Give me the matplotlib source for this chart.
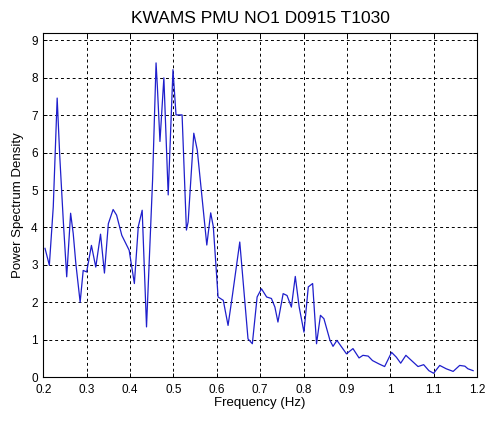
import matplotlib
matplotlib.use("Agg")
import matplotlib.pyplot as plt

plt.rcParams['font.family'] = ['Liberation Sans', 'DejaVu Sans']

freq = [0.204, 0.214, 0.223, 0.232, 0.238, 0.246, 0.254, 0.263, 0.269, 0.275,
        0.285, 0.292, 0.300, 0.311, 0.321, 0.332, 0.341, 0.350, 0.361, 0.369,
        0.381, 0.398, 0.410, 0.419, 0.428, 0.438, 0.452, 0.460, 0.463, 0.469,
        0.478, 0.488, 0.499, 0.506, 0.520, 0.530, 0.534, 0.547, 0.555, 0.577,
        0.586, 0.592, 0.603, 0.615, 0.626, 0.636, 0.653, 0.672, 0.682, 0.693,
        0.703, 0.715, 0.726, 0.734, 0.741, 0.753, 0.762, 0.772, 0.781, 0.790,
        0.801, 0.811, 0.821, 0.830, 0.839, 0.847, 0.861, 0.868, 0.877, 0.888,
        0.899, 0.914, 0.928, 0.937, 0.949, 0.959, 0.974, 0.987, 1.003, 1.014,
        1.024, 1.036, 1.049, 1.064, 1.077, 1.089, 1.100, 1.114, 1.129, 1.145,
        1.160, 1.172, 1.179, 1.191]
psd = [3.44, 2.99, 4.55, 7.46, 5.90, 4.20, 2.68, 4.38, 3.84, 3.04,
       2.00, 2.85, 2.81, 3.52, 2.94, 3.82, 2.78, 4.10, 4.48, 4.33,
       3.79, 3.39, 2.50, 4.02, 4.46, 1.34, 5.27, 8.40, 7.77, 6.30,
       8.00, 4.87, 8.22, 7.01, 7.01, 3.93, 4.15, 6.52, 6.07, 3.53,
       4.39, 4.02, 2.14, 2.05, 1.38, 2.18, 3.61, 1.02, 0.89, 2.14,
       2.36, 2.14, 2.10, 1.87, 1.47, 2.23, 2.18, 1.87, 2.69, 1.87,
       1.20, 2.41, 2.50, 0.89, 1.65, 1.56, 0.98, 0.82, 0.98, 0.80,
       0.62, 0.76, 0.51, 0.58, 0.56, 0.44, 0.35, 0.28, 0.66, 0.53,
       0.37, 0.58, 0.44, 0.28, 0.33, 0.17, 0.10, 0.31, 0.22, 0.15,
       0.31, 0.29, 0.22, 0.17]

xticks = [0.2, 0.3, 0.4, 0.5, 0.6, 0.7, 0.8, 0.9, 1.0, 1.1, 1.2]
xticklabels = ['0.2', '0.3', '0.4', '0.5', '0.6', '0.7', '0.8', '0.9', '1', '1.1', '1.2']
yticks = [0, 1, 2, 3, 4, 5, 6, 7, 8, 9]

fig = plt.figure(figsize=(4.88, 4.22), dpi=100)
ax = fig.add_axes([0.0887, 0.1066, 0.8888, 0.8152])
ax.plot(freq, psd, color=(0.12, 0.12, 0.8), linewidth=0.9)
ax.set_xlim(0.2, 1.2)
ax.set_ylim(0, 9.2)
ax.set_xticks(xticks)
ax.set_xticklabels(xticklabels)
ax.set_yticks(yticks)
ax.grid(True, color='black', linestyle=(0, (3, 3)), linewidth=0.7)
ax.tick_params(direction='in', labelsize=8.5, length=3, width=0.7, top=True, right=True)
ax.tick_params(axis='x', pad=5)
ax.tick_params(axis='y', pad=4)
for s in ax.spines.values():
    s.set_linewidth(0.8)
ax.set_title('KWAMS PMU NO1 D0915 T1030', fontsize=12.5, pad=7)
ax.set_xlabel('Frequency (Hz)', fontsize=9.5, labelpad=1)
ax.set_ylabel('Power Spectrum Density', fontsize=9.5, labelpad=5)
fig.savefig('out.png', dpi=100)
